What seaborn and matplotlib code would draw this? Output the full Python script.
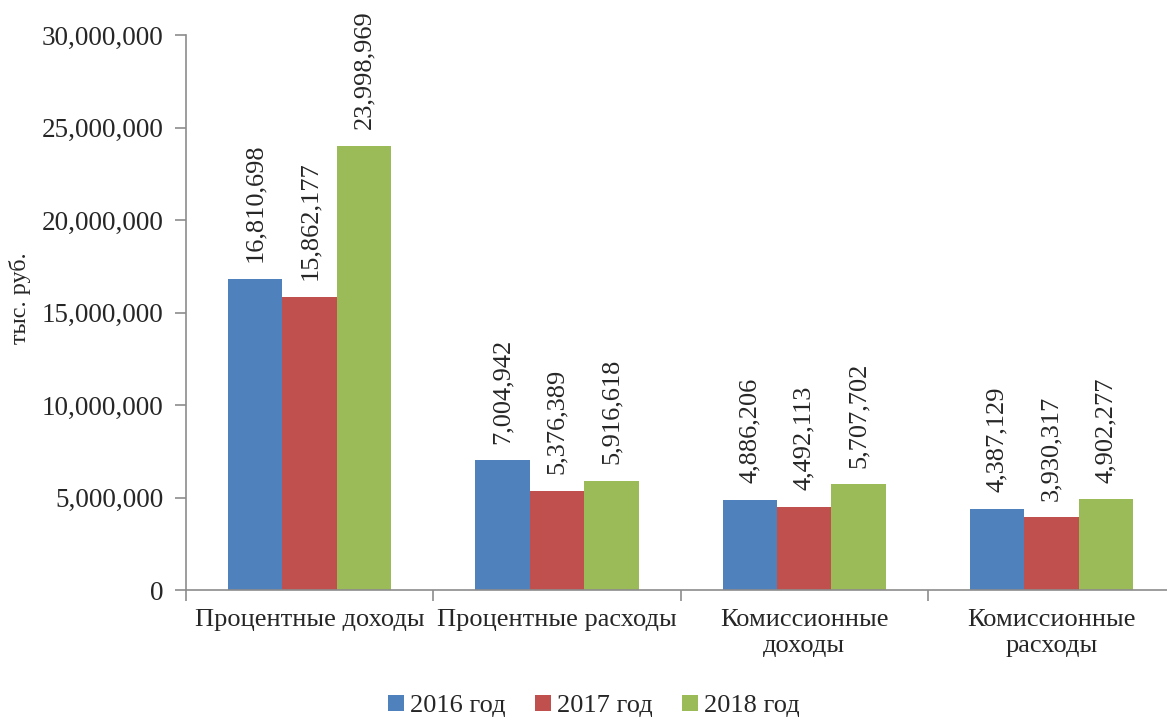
import numpy as np
import pandas as pd
import matplotlib
matplotlib.use('Agg')
import matplotlib.pyplot as plt
import seaborn as sns
from matplotlib.ticker import FuncFormatter, FixedLocator

# Data (тыс. руб.)
categories = ['Процентные доходы', 'Процентные расходы',
              'Комиссионные\nдоходы', 'Комиссионные\nрасходы']
years = ['2016 год', '2017 год', '2018 год']
vals_2016 = [16810698, 7004942, 4886206, 4387129]
vals_2017 = [15862177, 5376389, 4492113, 3930317]
vals_2018 = [23998969, 5916618, 5707702, 4902277]
colors = ['#4F81BD', '#C0504D', '#9BBB59']

df = pd.DataFrame({
    'cat': categories * 3,
    'year': [years[0]] * 4 + [years[1]] * 4 + [years[2]] * 4,
    'value': vals_2016 + vals_2017 + vals_2018,
})

sns.set_theme(style='white')
plt.rcParams['font.family'] = ['Liberation Serif', 'DejaVu Serif']
plt.rcParams['font.size'] = 19

fig = plt.figure(figsize=(11.67, 7.18), dpi=100)
ax = fig.add_axes([186 / 1167, 1 - 590 / 718, (1167 - 186) / 1167, 555 / 718])

sns.barplot(data=df, x='cat', y='value', hue='year', palette=colors,
            width=0.66, saturation=1, linewidth=0, ax=ax)

for cont in ax.containers:
    ax.bar_label(cont, labels=[f'{v:,.0f}' for v in cont.datavalues],
                 rotation=90, padding=12, fontsize=19)

ax.set_ylim(0, 30000000)
ax.set_yticks(np.arange(0, 30000001, 5000000))
ax.yaxis.set_major_formatter(FuncFormatter(lambda v, p: f'{v:,.0f}'))
ax.set_xlim(-0.5, -0.5 + (1167 - 186) / 247.3)

ax.set_xlabel('')
ax.set_ylabel('тыс. руб.', fontsize=17.5)
ax.yaxis.set_label_coords(31 / 1167, 1 - 298 / 718, transform=fig.transFigure)

for s in ['top', 'right']:
    ax.spines[s].set_visible(False)
for s in ['left', 'bottom']:
    ax.spines[s].set_color('#8c8c8c')
    ax.spines[s].set_linewidth(1.2)

ax.tick_params(axis='y', direction='out', length=8, width=1.2, color='#8c8c8c',
               labelsize=19.5, pad=8, left=True)
ax.tick_params(axis='x', which='major', length=0, labelsize=19, pad=14)
ax.xaxis.set_minor_locator(FixedLocator([-0.5, 0.5, 1.5, 2.5, 3.5]))
ax.tick_params(axis='x', which='minor', direction='out', length=8, width=1.2,
               color='#8c8c8c', bottom=True)
for lab in ax.get_xticklabels():
    lab.set_multialignment('center')

handles, labels = ax.get_legend_handles_labels()
ax.legend_.remove()
fig.legend(handles, labels, loc='center', bbox_to_anchor=(594 / 1167, 1 - 706 / 718),
           ncol=3, frameon=False, fontsize=19, handlelength=0.6, handleheight=0.6,
           handletextpad=0.25, columnspacing=1.1)

fig.savefig('out.png', dpi=100)
